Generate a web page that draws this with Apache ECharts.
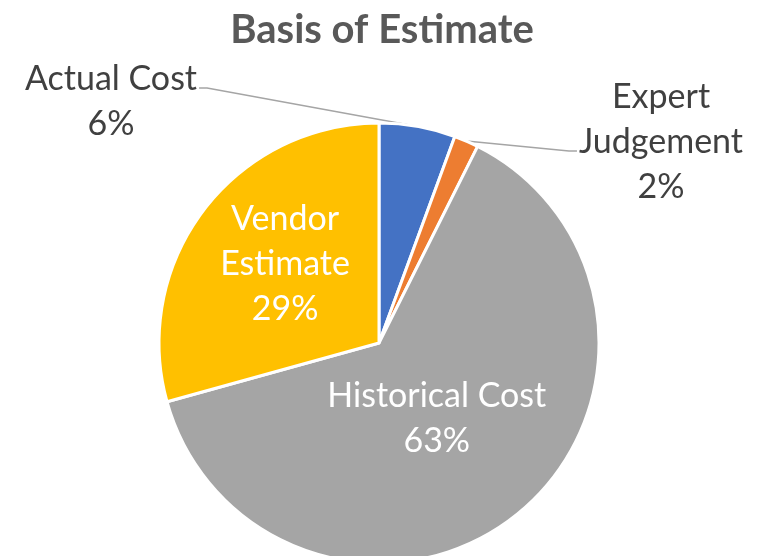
<!DOCTYPE html>
<html>
<head>
<meta charset="utf-8">
<script src="https://cdn.jsdelivr.net/npm/echarts@6/dist/echarts.min.js"></script>
<style>
html,body{margin:0;padding:0;background:#fff;}
#main{width:764px;height:556px;}
</style>
</head>
<body>
<div id="main"></div>
<script>
// data
var categories = ['Actual Cost', 'Expert Judgement', 'Historical Cost', 'Vendor Estimate'];
var labelNames = ['Actual Cost', 'Expert\nJudgement', 'Historical Cost', 'Vendor\nEstimate'];
var shares = [5.6, 1.8, 63.3, 29.3];
var colors = ['#4472C4', '#ED7D31', '#A5A5A5', '#FFC000'];
var labelSpots = [[111, 102], [661, 142], null, null]; // outside label centres
var insideShift = [null, null, [-14, -12], [-4, -11]];

var myChart = echarts.init(document.getElementById('main'));

var pieData = [];
for (var i = 0; i < categories.length; i++) {
	var item = {name: categories[i], value: shares[i], itemStyle: {color: colors[i]}};
	if (labelSpots[i] == null) {
		item.label = {position: 'inside', color: '#fff'};
	}
	pieData.push(item);
}

option = {
	title: {
		text: 'Basis of Estimate',
		left: 'center',
		top: 5,
		textStyle: {fontFamily: 'Lato', fontSize: 40, fontWeight: 'bold', color: '#595959'}
	},
	series: [{
		type: 'pie',
		center: [379, 343],
		radius: 220,
		startAngle: 90,
		clockwise: true,
		avoidLabelOverlap: false,
		animation: false,
		itemStyle: {borderColor: '#fff', borderWidth: 3},
		label: {
			show: true,
			position: 'outside',
			fontFamily: 'Lato',
			fontSize: 34,
			lineHeight: 45,
			color: '#404040',
			align: 'center',
			formatter: function (p) {
				return labelNames[p.dataIndex] + '\n' + Math.round(p.percent) + '%';
			}
		},
		labelLine: {show: true, lineStyle: {color: '#A5A5A5', width: 1.5}},
		labelLayout: function (p) {
			var spot = labelSpots[p.dataIndex];
			if (!spot) {
				var s = insideShift[p.dataIndex];
				return {dx: s[0], dy: s[1]};
			}
			var w = p.labelRect.width;
			var edge = p.labelLinePoints ? p.labelLinePoints[0].slice() : null;
			var res = {x: spot[0], y: spot[1], align: 'center', verticalAlign: 'middle'};
			if (edge) {
				if (p.dataIndex === 0) {
					var ly = spot[1] - 14;
					res.labelLinePoints = [edge, [spot[0] + w / 2 + 10, ly], [spot[0] + w / 2 + 2, ly]];
				} else {
					var ly2 = spot[1] + 9;
					res.labelLinePoints = [edge, [spot[0] - w / 2 - 10, ly2], [spot[0] - w / 2 - 2, ly2]];
				}
			}
			return res;
		},
		data: pieData
	}]
};
myChart.setOption(option);
</script>
</body>
</html>
